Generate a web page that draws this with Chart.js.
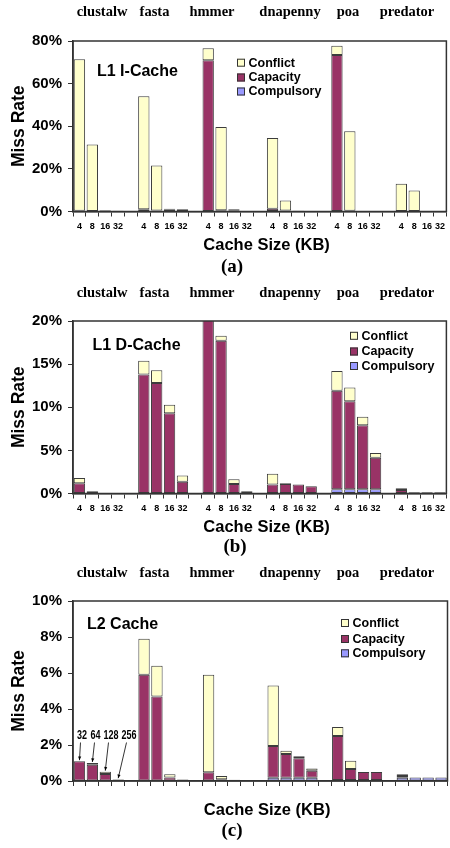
<!DOCTYPE html>
<html>
<head>
<meta charset="utf-8">
<script src="https://cdn.jsdelivr.net/npm/chart.js@4.4.0/dist/chart.umd.min.js"></script>
<style>
  body { margin: 0; background: #fff; width: 450px; height: 848px; position: relative; overflow: hidden; }
  canvas { position: absolute; left: 0; }
</style>
</head>
<body>
<canvas id="chartA" width="450" height="280" style="top:0px"></canvas>
<canvas id="chartB" width="450" height="280" style="top:280px"></canvas>
<canvas id="chartC" width="450" height="288" style="top:560px"></canvas>
<script>
// benchmarks and cache sizes
const benchmarks = ['clustalw', 'fasta', 'hmmer', 'dnapenny', 'poa', 'predator'];
const l1Sizes = ['4', '8', '16', '32'];
const l2Sizes = ['32', '64', '128', '256'];

// (a) L1 I-Cache miss rate (%), 4 sizes per benchmark
const iCompulsory = [0, 0, 0, 0,  0, 0, 0, 0,  0, 0, 0, 0,  0, 0, 0, 0,  0, 0, 0, 0,  0, 0, 0, 0];
const iCapacity   = [0.3, 0.2, 0.5, 0.2,  1.0, 0.5, 1.0, 0.7,  71.0, 0.6, 0.3, 0,  1.3, 0.5, 0.1, 0,  73.4, 0.3, 0, 0,  0, 0, 0, 0];
const iConflict   = [71.1, 31.2, 0.2, 0.2,  53.1, 21.1, 0.3, 0.3,  5.6, 39.1, 0.7, 0,  33.2, 4.7, 0.2, 0,  4.4, 37.3, 0, 0,  13.0, 9.9, 0, 0];

// (b) L1 D-Cache miss rate (%)
const dCompulsory = [0, 0, 0, 0,  0, 0, 0, 0,  0, 0, 0, 0,  0, 0, 0, 0,  0.5, 0.5, 0.5, 0.5,  0, 0, 0, 0];
const dCapacity   = [1.2, 0, 0, 0,  13.8, 12.8, 9.3, 1.35,  20.5, 17.7, 1.1, 0.25,  1.05, 1.1, 1.05, 0.85,  11.4, 10.2, 7.4, 3.65,  0.4, 0.15, 0.15, 0.15];
const dConflict   = [0.6, 0.25, 0, 0,  1.6, 1.5, 1.0, 0.75,  0, 0.6, 0.55, 0,  1.25, 0.1, 0, 0,  2.3, 1.6, 1.0, 0.55,  0.2, 0, 0, 0];

// (c) L2 Cache miss rate (%)
const l2Compulsory = [0, 0, 0, 0,  0, 0, 0, 0,  0, 0, 0, 0,  0.18, 0.18, 0.18, 0.18,  0.05, 0.05, 0.05, 0.05,  0.18, 0.2, 0.2, 0.2];
const l2Capacity   = [1.1, 0.9, 0.39, 0.07,  5.9, 4.7, 0.2, 0.05,  0.48, 0.1, 0.05, 0,  1.77, 1.32, 1.08, 0.39,  2.45, 0.62, 0.45, 0.45,  0.1, 0, 0, 0];
const l2Conflict   = [0, 0.1, 0.13, 0.03,  2.0, 1.7, 0.17, 0.03,  5.42, 0.18, 0.02, 0,  3.35, 0.18, 0.11, 0.13,  0.5, 0.46, 0, 0,  0.09, 0, 0, 0];

const SANS = '"Liberation Sans", Arial, sans-serif';
const SERIF = '"Liberation Serif", "Times New Roman", serif';
const CONFLICT_COLOR = '#FFFFCC';
const CAPACITY_COLOR = '#993366';
const COMPULSORY_COLOR = '#9999FF';
const LINE = '#333333';
const nameX = [102, 154.5, 212, 290, 348, 407];

// 24 values -> 29 slots, one empty slot between benchmarks
function spread(vals) {
  const out = [];
  vals.forEach((v, i) => {
    if (i > 0 && i % 4 === 0) out.push(null);
    out.push(v ? v : null);
  });
  return out;
}

function tickLabels(sizes) {
  const out = [];
  benchmarks.forEach((b, g) => {
    if (g > 0) out.push('');
    sizes.forEach(s => out.push(s));
  });
  return out;
}

function decoPlugin(p) {
  return {
    id: 'deco',
    afterDraw(chart) {
      const ctx = chart.ctx;
      const a = chart.chartArea;
      ctx.save();
      // frame around the plot
      ctx.strokeStyle = LINE;
      ctx.lineWidth = 1.5;
      ctx.strokeRect(a.left, a.top, a.right - a.left, a.bottom - a.top);

      ctx.fillStyle = '#000';
      // benchmark names on top
      ctx.font = 'bold 14.5px ' + SERIF;
      ctx.textAlign = 'center';
      ctx.textBaseline = 'alphabetic';
      benchmarks.forEach((n, i) => ctx.fillText(n, nameX[i], p.nameY));

      // panel title inside plot
      ctx.font = 'bold 16px ' + SANS;
      ctx.textAlign = 'left';
      ctx.fillText(p.title, p.titleX, p.titleY);

      // legend
      const items = [['Conflict', CONFLICT_COLOR], ['Capacity', CAPACITY_COLOR], ['Compulsory', COMPULSORY_COLOR]];
      ctx.font = 'bold 12.5px ' + SANS;
      ctx.textBaseline = 'middle';
      items.forEach((it, i) => {
        const y = p.legY[i];
        ctx.fillStyle = it[1];
        ctx.fillRect(p.legX, y - 4, 8, 8);
        ctx.strokeStyle = LINE;
        ctx.lineWidth = 1;
        ctx.strokeRect(p.legX + 0.5, y - 3.5, 7, 7);
        ctx.fillStyle = '#000';
        ctx.fillText(it[0], p.legX + 11.5, y + 0.5);
      });

      // caption (a)/(b)/(c)
      ctx.font = 'bold 19px ' + SERIF;
      ctx.textAlign = 'center';
      ctx.fillText(p.caption, p.capX, p.capY);

      // L2 sizes with arrows for the first group
      if (p.annotate) {
        const xs = chart.scales.x, ys = chart.scales.y;
        const lx = [82, 95.5, 111, 129];
        const sx = [80.5, 94.5, 108.5, 126.5];
        l2Sizes.forEach((s, i) => {
          ctx.fillStyle = '#000';
          ctx.save();
          ctx.translate(lx[i], 176);
          ctx.scale(0.75, 1);
          ctx.font = 'bold 12px ' + SANS;
          ctx.textAlign = 'center';
          ctx.textBaseline = 'middle';
          ctx.fillText(s, 0, 0);
          ctx.restore();
          const total = l2Compulsory[i] + l2Capacity[i] + l2Conflict[i];
          const ex = xs.getPixelForValue(i);
          const ey = ys.getPixelForValue(total) - 1;
          const sy = 182.5;
          ctx.strokeStyle = '#000';
          ctx.lineWidth = 0.8;
          ctx.beginPath();
          ctx.moveTo(sx[i], sy);
          ctx.lineTo(ex, ey);
          ctx.stroke();
          const ang = Math.atan2(ey - sy, ex - sx[i]);
          ctx.beginPath();
          ctx.moveTo(ex, ey);
          ctx.lineTo(ex - 4 * Math.cos(ang - 0.4), ey - 4 * Math.sin(ang - 0.4));
          ctx.lineTo(ex - 4 * Math.cos(ang + 0.4), ey - 4 * Math.sin(ang + 0.4));
          ctx.closePath();
          ctx.fill();
        });
      }
      ctx.restore();
    }
  };
}

function makeChart(id, p) {
  const datasets = [
    { label: 'Compulsory', data: spread(p.compulsory), backgroundColor: COMPULSORY_COLOR },
    { label: 'Capacity', data: spread(p.capacity), backgroundColor: CAPACITY_COLOR },
    { label: 'Conflict', data: spread(p.conflict), backgroundColor: CONFLICT_COLOR }
  ].map(d => Object.assign(d, {
    borderColor: '#3c3c3c', borderWidth: 1, borderSkipped: false,
    barPercentage: 0.88, categoryPercentage: 1
  }));

  return new Chart(document.getElementById(id), {
    type: 'bar',
    data: { labels: p.labels, datasets: datasets },
    options: {
      responsive: false,
      animation: false,
      layout: { padding: { top: 41, right: 2.5, left: 0, bottom: 0 } },
      plugins: { legend: { display: false }, tooltip: { enabled: false } },
      scales: {
        x: {
          stacked: true,
          grid: { drawOnChartArea: false, tickLength: 5, color: LINE },
          border: { color: LINE, width: 1.5 },
          ticks: { autoSkip: false, maxRotation: 0, padding: 5, color: '#000', font: { family: SANS, size: 9, weight: 'bold' } },
          title: { display: true, text: '   Cache Size (KB)', color: '#000', font: { family: SANS, size: 16.5, weight: 'bold' }, padding: { top: 0, bottom: p.xTitlePad } },
          afterFit: s => { s.height = p.height - p.plotBottom; }
        },
        y: {
          stacked: true,
          min: 0,
          max: p.max,
          ticks: { stepSize: p.step, padding: 6, color: '#000', font: { family: SANS, size: 15, weight: 'bold' }, callback: v => v + '%' },
          grid: { drawOnChartArea: false, tickLength: 5, color: LINE },
          border: { color: LINE, width: 1.5 },
          title: { display: true, text: 'Miss Rate', color: '#000', font: { family: SANS, size: 17.5, weight: 'bold' }, padding: { top: 8.5, bottom: 0 } },
          afterFit: s => { s.width = 73; }
        }
      }
    },
    plugins: [decoPlugin(p)]
  });
}

makeChart('chartA', {
  labels: tickLabels(l1Sizes),
  compulsory: iCompulsory, capacity: iCapacity, conflict: iConflict,
  max: 80, step: 20, height: 280, plotBottom: 211.5, xTitlePad: 25,
  nameY: 16, title: 'L1 I-Cache', titleX: 97, titleY: 76,
  legX: 237, legY: [62.7, 77.5, 91.5],
  caption: '(a)', capX: 232, capY: 267
});

makeChart('chartB', {
  labels: tickLabels(l1Sizes),
  compulsory: dCompulsory, capacity: dCapacity, conflict: dConflict,
  max: 20, step: 5, height: 280, plotBottom: 213.5, xTitlePad: 22.5,
  nameY: 17, title: 'L1 D-Cache', titleX: 92.5, titleY: 70,
  legX: 350, legY: [55.8, 71.5, 86],
  caption: '(b)', capX: 235, capY: 267
});

makeChart('chartC', {
  labels: tickLabels(l2Sizes).map(() => ''),
  compulsory: l2Compulsory, capacity: l2Capacity, conflict: l2Conflict,
  max: 10, step: 2, height: 288, plotBottom: 221, xTitlePad: 28,
  nameY: 17, title: 'L2 Cache', titleX: 87, titleY: 68.5,
  legX: 341, legY: [63, 79, 93.3],
  caption: '(c)', capX: 232, capY: 271.5,
  annotate: true
});
</script>
</body>
</html>
